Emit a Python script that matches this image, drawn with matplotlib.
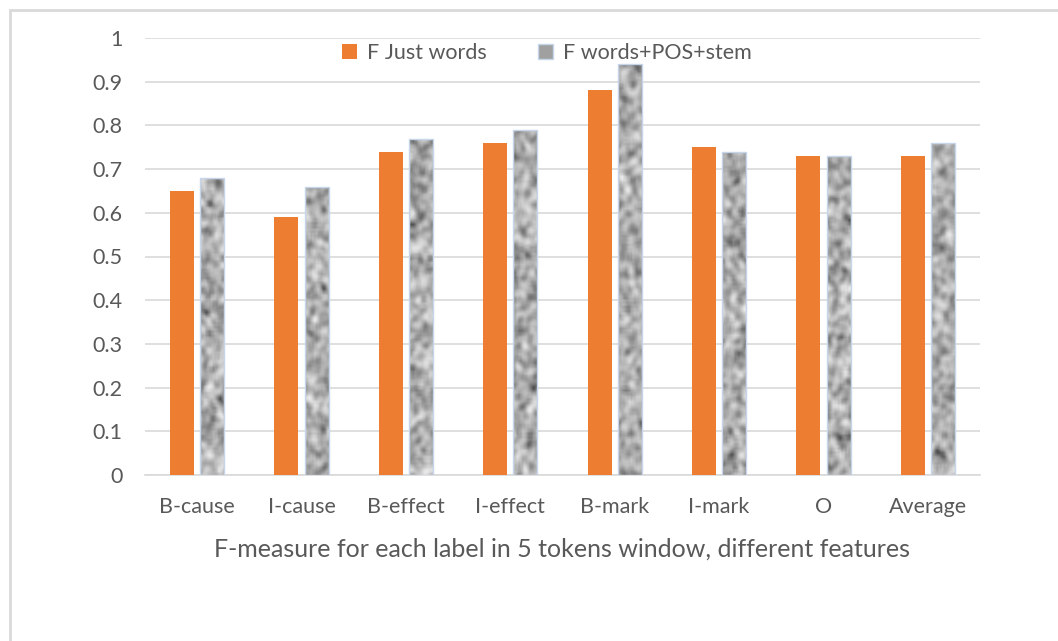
import numpy as np
import matplotlib
matplotlib.use("Agg")
import matplotlib.pyplot as plt
from matplotlib.patches import Rectangle, Patch

categories = ["B-cause", "I-cause", "B-effect", "I-effect", "B-mark", "I-mark", "O", "Average"]
just_words = [0.65, 0.59, 0.74, 0.76, 0.88, 0.75, 0.73, 0.73]
words_pos_stem = [0.68, 0.66, 0.77, 0.79, 0.94, 0.74, 0.73, 0.76]
series_names = ["F Just words", "F words+POS+stem"]
yticks = [0, 0.1, 0.2, 0.3, 0.4, 0.5, 0.6, 0.7, 0.8, 0.9, 1]
xlabel = "F-measure for each label in 5 tokens window, different features"

plt.rcParams['font.family'] = ['Lato', 'DejaVu Sans']
txt = "#595959"
grid = "#d9d9d9"
orange = "#ED7D31"

fig = plt.figure(figsize=(10.58, 6.41), dpi=100)
W, H = 1058, 641
# outer frame
fig.add_artist(Rectangle((10 / W, -0.1), 1.2, (1 - 10 / H) + 0.1, transform=fig.transFigure,
                         fill=False, edgecolor=grid, linewidth=2))

ax = fig.add_axes([145 / W, 1 - 475 / H, (980 - 145) / W, (475 - 38) / H])
x = np.arange(len(categories))
bw = 0.23
off = 0.145
ax.bar(x - off, just_words, bw, color=orange, zorder=3)
bars2 = ax.bar(x + off, words_pos_stem, bw, color="none", edgecolor="#c5d5ea", linewidth=1, zorder=4)

# granite-like texture for second series
rng = np.random.default_rng(7)
def texture(h, w):
    n = rng.random((h, w))
    for _ in range(2):
        n = (np.roll(n, 1, 0) + n + np.roll(n, -1, 0)) / 3
        n = (np.roll(n, 1, 1) + n + np.roll(n, -1, 1)) / 3
    n = (n - n.min()) / (n.max() - n.min())
    n = n ** 0.7
    return 0.3 + 0.62 * n

for b in bars2:
    x0, y0 = b.get_x(), b.get_y()
    img = texture(int(b.get_height() * 200) + 4, 14)
    im = ax.imshow(img, cmap="gray", vmin=0, vmax=1, extent=(x0, x0 + b.get_width(), y0, y0 + b.get_height()),
                   aspect="auto", zorder=3.5, interpolation="bilinear")
    im.set_clip_path(b)

ax.set_xlim(-0.5, len(categories) - 0.5)
ax.set_ylim(0, 1)
ax.set_yticks(yticks)
ax.set_yticklabels([f"{v:g}" for v in yticks])
ax.set_xticks(x)
ax.set_xticklabels(categories)
ax.tick_params(axis='both', length=0, labelsize=15.5, colors=txt)
ax.tick_params(axis='y', pad=16)
ax.tick_params(axis='x', pad=16)
ax.grid(axis='y', color=grid, linewidth=1.2, zorder=0)
for s in ["left", "right", "top"]:
    ax.spines[s].set_visible(False)
ax.spines["bottom"].set_color(grid)
ax.spines["bottom"].set_linewidth(1.2)
ax.set_xlabel(xlabel, fontsize=18, color=txt, labelpad=15)

handles = [Patch(facecolor=orange, edgecolor="none"),
           Patch(facecolor="#a0a0a0", edgecolor="#c5d5ea")]
fig.legend(handles, series_names, loc="center", bbox_to_anchor=(547 / W, 1 - 53 / H), ncol=2,
           frameon=False, fontsize=15.5, labelcolor=txt, handlelength=0.7, handleheight=0.7,
           handletextpad=0.45, columnspacing=2.4)

fig.savefig("out.png", dpi=100)
